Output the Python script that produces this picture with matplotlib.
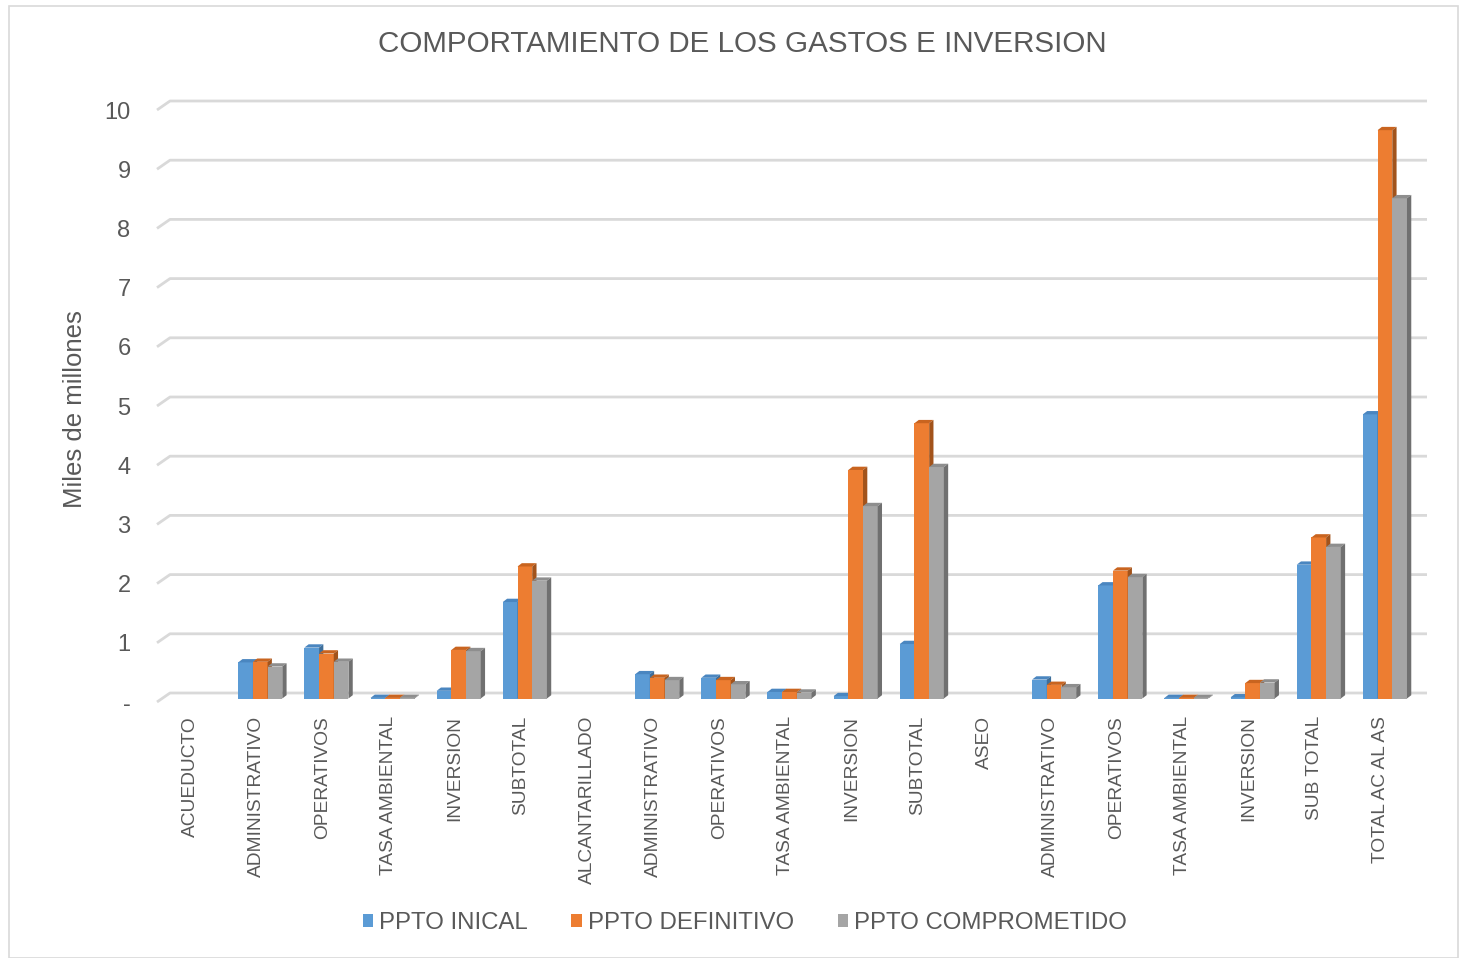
"""
Comportamiento de los gastos e inversion - barras agrupadas con efecto 3D
"""

import numpy as np
import matplotlib
matplotlib.use('Agg')
import matplotlib.pyplot as plt
from matplotlib.patches import Polygon, Patch

plt.rcParams['font.family'] = ['Liberation Sans', 'DejaVu Sans']

# datos (miles de millones)
categories = ['ACUEDUCTO', 'ADMINISTRATIVO', 'OPERATIVOS', 'TASA AMBIENTAL',
              'INVERSION', 'SUBTOTAL', 'ALCANTARILLADO', 'ADMINISTRATIVO',
              'OPERATIVOS', 'TASA AMBIENTAL', 'INVERSION', 'SUBTOTAL', 'ASEO',
              'ADMINISTRATIVO', 'OPERATIVOS', 'TASA AMBIENTAL', 'INVERSION',
              'SUB TOTAL', 'TOTAL AC AL AS']
ppto_inicial = [0, 0.61, 0.86, 0.01, 0.13, 1.63, 0, 0.41, 0.35, 0.11, 0.04,
                0.92, 0, 0.32, 1.91, 0.01, 0.02, 2.26, 4.80]
ppto_definitivo = [0, 0.62, 0.76, 0.01, 0.82, 2.23, 0, 0.35, 0.31, 0.11, 3.86,
                   4.65, 0, 0.23, 2.16, 0.01, 0.26, 2.72, 9.60]
ppto_comprometido = [0, 0.54, 0.62, 0.01, 0.80, 1.99, 0, 0.31, 0.24, 0.10,
                     3.25, 3.91, 0, 0.19, 2.05, 0.01, 0.27, 2.56, 8.45]
series_names = ['PPTO INICAL', 'PPTO DEFINITIVO', 'PPTO COMPROMETIDO']
yticks = list(range(11))
ytick_labels = ['-'] + [str(i) for i in range(1, 11)]

# colores: frente, tapa, lado
front_colors = ['#5B9BD5', '#ED7D31', '#A5A5A5']
top_colors = ['#4A86C0', '#C9641F', '#8E8E8E']
side_colors = ['#3E6E9A', '#A2531B', '#707070']
text_color = '#595959'
grid_color = '#D9D9D9'

W, H = 1460, 958
fig = plt.figure(figsize=(W / 100, H / 100), dpi=100)

# area de trazado (plano frontal)
x_left, x_right = 157, 1414
y_zero, y_ten = 702, 110
ax = fig.add_axes([x_left / W, 1 - y_zero / H,
                   (x_right - x_left) / W, (y_zero - y_ten) / H])
ncat = len(categories)
ax.set_xlim(-0.5, ncat - 0.5)
ax.set_ylim(0, 10)
for s in ax.spines.values():
    s.set_visible(False)

px_x = (x_right - x_left) / ncat
px_y = (y_zero - y_ten) / 10.0

# lineas de division con el quiebre hacia la pared del fondo
wall_dx = 13 / px_x
wall_dy = 9 / px_y
for v in yticks:
    ax.plot([-0.5, -0.5 + wall_dx, ncat - 0.5 + wall_dx],
            [v, v + wall_dy, v + wall_dy],
            color=grid_color, lw=2.0, clip_on=False, zorder=1,
            solid_capstyle='butt')

# barras
bar_w = 14.7 / px_x
depth_dx = 4.3 / px_x
depth_dy = 3.3 / px_y
base = 3.5 / px_y
shift = 4 / px_x
x = np.arange(ncat)
all_series = [ppto_inicial, ppto_definitivo, ppto_comprometido]

for k, vals in enumerate(all_series):
    xs = x + shift + (k - 1) * bar_w
    vals = np.array(vals, dtype=float)
    mask = vals > 0
    ax.bar(xs[mask], vals[mask], width=bar_w, bottom=base,
           color=front_colors[k], edgecolor='none', zorder=3 + k * 0.1,
           clip_on=False)
    for xc, v in zip(xs[mask], vals[mask]):
        x0 = xc - bar_w / 2
        x1 = xc + bar_w / 2
        top = base + v
        top_face = Polygon([(x0, top), (x1, top),
                            (x1 + depth_dx, top + depth_dy),
                            (x0 + depth_dx, top + depth_dy)],
                           closed=True, facecolor=top_colors[k],
                           edgecolor='none', zorder=3 + k * 0.1,
                           clip_on=False)
        side_face = Polygon([(x1, base), (x1 + depth_dx, base + depth_dy),
                             (x1 + depth_dx, top + depth_dy), (x1, top)],
                            closed=True, facecolor=side_colors[k],
                            edgecolor='none', zorder=3 + k * 0.1,
                            clip_on=False)
        ax.add_patch(top_face)
        ax.add_patch(side_face)

# ejes
ax.set_yticks(yticks)
ax.set_yticklabels(ytick_labels, fontsize=17, color=text_color)
ax.set_xticks(x)
ax.set_xticklabels(categories, rotation=90, fontsize=13.8, color=text_color,
                   va='top', ha='center')
ax.tick_params(axis='y', length=0, pad=19)
ax.tick_params(axis='x', length=0, pad=10)

fig.text(742 / W, 1 - 44 / H, 'COMPORTAMIENTO DE LOS GASTOS E INVERSION',
         ha='center', va='center', fontsize=21.3, color=text_color)
fig.text(75 / W, 1 - 409 / H, 'Miles de millones', rotation=90,
         ha='center', va='center', fontsize=18.5, color=text_color)

handles = [Patch(facecolor=c, edgecolor='none') for c in front_colors]
fig.legend(handles, series_names, loc='center',
           bbox_to_anchor=(745 / W, 1 - 923 / H), ncol=3, frameon=False,
           fontsize=17.3, handlelength=0.45, handleheight=0.45,
           handletextpad=0.25, columnspacing=1.8, labelcolor=text_color)

# borde del grafico
border = plt.Rectangle((9 / W, 0.5 / H), 1449 / W, (H - 6) / H,
                       transform=fig.transFigure, fill=False,
                       edgecolor=grid_color, lw=1.2)
fig.patches.append(border)

fig.savefig('out.png', dpi=100)
